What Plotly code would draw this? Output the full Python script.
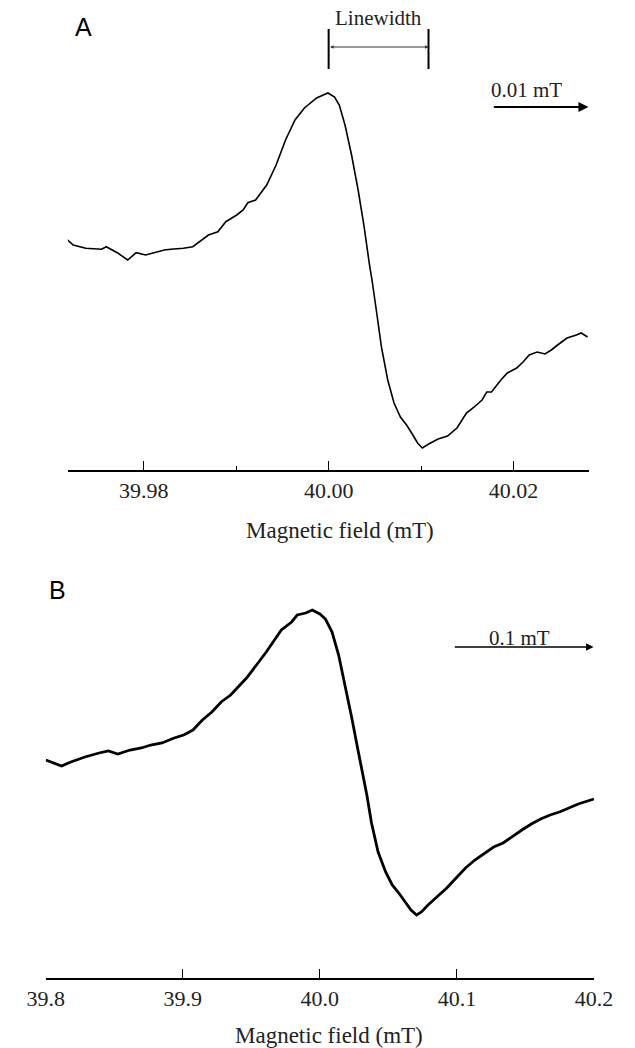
import plotly.graph_objects as go

# ---------------- data ----------------
# Panel A: narrow sweep (field in mT, derivative signal in arbitrary units)
field_a = [39.97169, 39.97238, 39.97373, 39.97544, 39.97595, 39.97714, 39.97827,
           39.97918, 39.98020, 39.98156, 39.98224, 39.98292, 39.98429, 39.98531,
           39.98598, 39.98700, 39.98802, 39.98888, 39.99006, 39.99075, 39.99126,
           39.99210, 39.99330, 39.99432, 39.99534, 39.99636, 39.99738, 39.99870,
           39.99942, 39.99993, 40.00064, 40.00115, 40.00177, 40.00248, 40.00319,
           40.00381, 40.00442, 40.00469, 40.00520, 40.00571, 40.00639, 40.00707,
           40.00776, 40.00843, 40.00911, 40.00962, 40.01013, 40.01082, 40.01184,
           40.01286, 40.01388, 40.01490, 40.01575, 40.01659, 40.01710, 40.01761,
           40.01863, 40.01932, 40.02034, 40.02102, 40.02169, 40.02255, 40.02340,
           40.02408, 40.02476, 40.02578, 40.02680, 40.02731, 40.02800]
signal_a = [0.307, 0.25, 0.217, 0.207, 0.233, 0.173, 0.10,
            0.173, 0.15, 0.183, 0.20, 0.207, 0.217, 0.233,
            0.283, 0.35, 0.383, 0.483, 0.55, 0.60, 0.673,
            0.70, 0.85, 1.05, 1.30, 1.50, 1.62, 1.72,
            1.75, 1.77, 1.73, 1.65, 1.45, 1.15, 0.80,
            0.45, 0.05, -0.10, -0.43, -0.77, -1.10, -1.33,
            -1.47, -1.55, -1.65, -1.73, -1.78, -1.74, -1.69,
            -1.66, -1.58, -1.43, -1.37, -1.30, -1.22, -1.22,
            -1.10, -1.03, -0.98, -0.92, -0.85, -0.82, -0.84,
            -0.80, -0.75, -0.68, -0.65, -0.63, -0.67]

# Panel B: wide sweep
field_b = [39.8000, 39.8115, 39.8183, 39.8286, 39.8389, 39.8457, 39.8526, 39.8615,
           39.8697, 39.8766, 39.8848, 39.8937, 39.9006, 39.9074, 39.9143, 39.9212,
           39.9280, 39.9349, 39.9417, 39.9465, 39.9554, 39.9609, 39.9719, 39.9794,
           39.9835, 39.9897, 39.9945, 40.0000, 40.0041, 40.0089, 40.0137, 40.0185,
           40.0233, 40.0281, 40.0343, 40.0377, 40.0425, 40.0480, 40.0528, 40.0576,
           40.0631, 40.0665, 40.0706, 40.0741, 40.0789, 40.0857, 40.0926, 40.0994,
           40.1063, 40.1131, 40.1200, 40.1268, 40.1337, 40.1406, 40.1474, 40.1543,
           40.1611, 40.1680, 40.1748, 40.1817, 40.1885, 40.1954, 40.2000]
signal_b = [0.10, 0.04, 0.08, 0.13, 0.17, 0.19, 0.16, 0.20,
            0.22, 0.25, 0.27, 0.32, 0.35, 0.40, 0.50, 0.58,
            0.68, 0.75, 0.85, 0.92, 1.08, 1.18, 1.40, 1.48,
            1.55, 1.57, 1.60, 1.56, 1.51, 1.38, 1.15, 0.85,
            0.52, 0.18, -0.25, -0.53, -0.82, -1.02, -1.15, -1.23,
            -1.33, -1.40, -1.45, -1.42, -1.35, -1.27, -1.18, -1.08,
            -0.98, -0.90, -0.83, -0.77, -0.73, -0.66, -0.60, -0.54,
            -0.49, -0.45, -0.42, -0.38, -0.34, -0.31, -0.29]

ticks_a = [39.98, 40.00, 40.02]
ticks_b = [39.8, 39.9, 40.0, 40.1, 40.2]
tick_text_b = ["39.8", "39.9", "40.0", "40.1", "40.2"]
axis_title = "Magnetic field (mT)"
panel_labels = ["A", "B"]
linewidth_field = [40.00, 40.0108]
scale_a = [40.0177, 40.0281]   # 0.01 mT scale arrow
scale_b = [40.0974, 40.1997]   # 0.1 mT scale arrow
scale_text = ["0.01 mT", "0.1 mT"]

SERIF = "Liberation Serif"
SANS = "Liberation Sans"
W, H = 635, 1048

fig = go.Figure()
fig.add_trace(go.Scatter(x=field_a, y=signal_a, mode="lines",
                         line=dict(color="black", width=1.6),
                         xaxis="x", yaxis="y", showlegend=False, hoverinfo="skip"))
fig.add_trace(go.Scatter(x=field_b, y=signal_b, mode="lines",
                         line=dict(color="black", width=2.8),
                         xaxis="x2", yaxis="y2", showlegend=False, hoverinfo="skip"))

common_x = dict(showline=True, linecolor="black", linewidth=1.6, ticks="inside",
                ticklen=9, tickwidth=1.3, tickcolor="black", showgrid=False,
                zeroline=False, tickfont=dict(family=SERIF, size=22, color="#222"))

fig.update_layout(
    width=W, height=H, margin=dict(l=0, r=0, t=0, b=0),
    paper_bgcolor="white", plot_bgcolor="white",
    xaxis=dict(domain=[52 / W, 606.7 / W], range=[39.9718, 40.0282], anchor="y",
               tickvals=ticks_a, tickformat=".2f",
               minor=dict(ticks="inside", ticklen=4, tickwidth=1.3, tickcolor="black",
                          dtick=0.01, tick0=39.98, showgrid=False),
               **common_x),
    yaxis=dict(domain=[1 - 470 / H, 1.0], range=[-2.0, 2.7], visible=False, anchor="x"),
    xaxis2=dict(domain=[28.3 / W, 611.7 / W], range=[39.7999, 40.2001], anchor="y2",
                tickvals=ticks_b, ticktext=tick_text_b, **common_x),
    yaxis2=dict(domain=[1 - 978 / H, 1 - 560 / H], range=[-2.08, 2.10], visible=False,
                anchor="x2"),
)

ann = []
# axis titles
ann.append(dict(text=axis_title, xref="paper", yref="paper", x=341 / W, y=1 - 530 / H,
                showarrow=False, font=dict(family=SERIF, size=23, color="#222"),
                xanchor="center", yanchor="middle"))
ann.append(dict(text=axis_title, xref="paper", yref="paper", x=330 / W, y=1 - 1035 / H,
                showarrow=False, font=dict(family=SERIF, size=23, color="#222"),
                xanchor="center", yanchor="middle"))
# panel letters
ann.append(dict(text=panel_labels[0], xref="paper", yref="paper", x=69 / W, y=1 - 27 / H,
                showarrow=False, font=dict(family=SANS, size=25, color="black"),
                xanchor="center", yanchor="middle"))
ann.append(dict(text=panel_labels[1], xref="paper", yref="paper", x=41 / W, y=1 - 590 / H,
                showarrow=False, font=dict(family=SANS, size=25, color="black"),
                xanchor="center", yanchor="middle"))
# Linewidth label and double arrow
ann.append(dict(text="Linewidth", xref="x", yref="y",
                x=sum(linewidth_field) / 2, y=2.52, showarrow=False,
                font=dict(family=SERIF, size=21, color="#222"),
                xanchor="center", yanchor="middle"))
ann.append(dict(text="", xref="x", yref="y", axref="x", ayref="y",
                x=linewidth_field[1], y=2.23, ax=linewidth_field[0], ay=2.23,
                showarrow=True, arrowside="end+start", arrowhead=2, arrowsize=0.7,
                arrowwidth=1, arrowcolor="#333", standoff=0, startstandoff=0))
# scale arrows
ann.append(dict(text=scale_text[0], xref="x", yref="y", x=40.0214, y=1.80,
                showarrow=False, font=dict(family=SERIF, size=21, color="#222"),
                xanchor="center", yanchor="middle"))
ann.append(dict(text="", xref="x", yref="y", axref="x", ayref="y",
                x=scale_a[1], y=1.63, ax=scale_a[0], ay=1.63,
                showarrow=True, arrowhead=2, arrowsize=1, arrowwidth=2,
                arrowcolor="black", standoff=0))
ann.append(dict(text=scale_text[1], xref="x2", yref="y2", x=40.1459, y=1.32,
                showarrow=False, font=dict(family=SERIF, size=21, color="#222"),
                xanchor="center", yanchor="middle"))
ann.append(dict(text="", xref="x2", yref="y2", axref="x2", ayref="y2",
                x=scale_b[1], y=1.23, ax=scale_b[0], ay=1.23,
                showarrow=True, arrowhead=2, arrowsize=1, arrowwidth=1.5,
                arrowcolor="black", standoff=0))
fig.update_layout(annotations=ann)

shapes = []
for xf in linewidth_field:
    shapes.append(dict(type="line", xref="x", yref="y", x0=xf, x1=xf, y0=2.01, y1=2.41,
                       line=dict(color="black", width=2)))
fig.update_layout(shapes=shapes)

fig.write_html("out.html", config={"displayModeBar": False},
               post_script="document.body.style.margin='0px';")
